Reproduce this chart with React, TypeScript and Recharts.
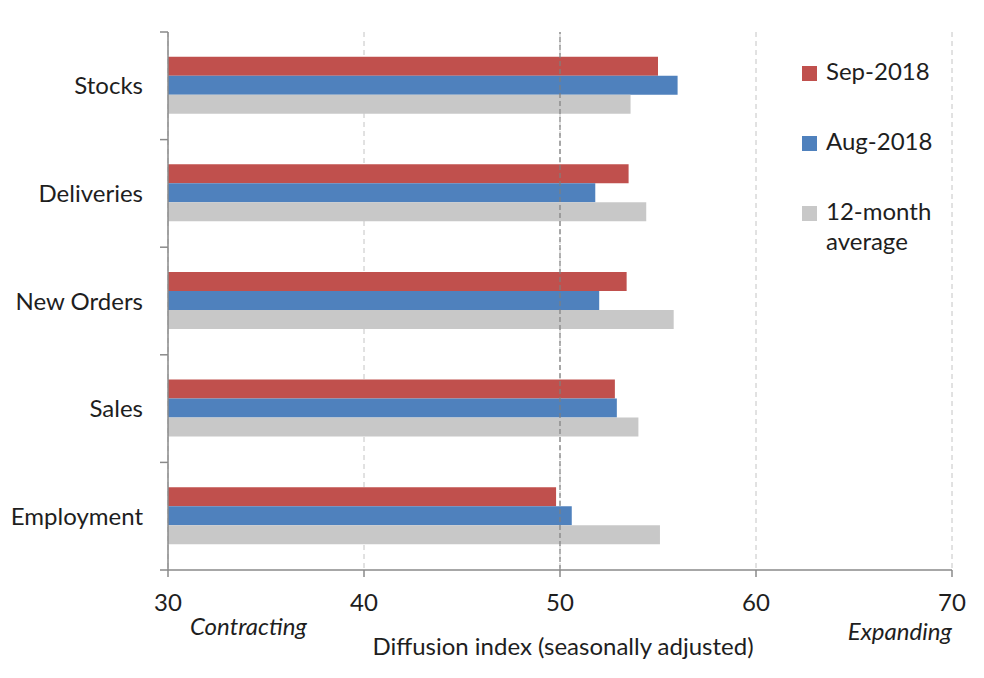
import React from 'react';
import { BarChart, Bar, XAxis, YAxis, CartesianGrid, ReferenceLine } from 'recharts';

const categories = ['Stocks', 'Deliveries', 'New Orders', 'Sales', 'Employment'];
const sep2018 = [55.0, 53.5, 53.4, 52.8, 49.8];
const aug2018 = [56.0, 51.8, 52.0, 52.9, 50.6];
const avg12 = [53.6, 54.4, 55.8, 54.0, 55.1];
const xTicks = [30, 40, 50, 60, 70];
const boundaryTicks = [0, 1, 2, 3, 4, 5];

const series = [
  { key: 'sep', name: 'Sep-2018', values: sep2018, color: '#c0504d' },
  { key: 'aug', name: 'Aug-2018', values: aug2018, color: '#4f81bd' },
  { key: 'avg', name: '12-month average', values: avg12, color: '#c8c8c8' },
];

const data = categories.map((c, i) => {
  const row: any = { category: c, pos: i + 0.5 };
  series.forEach((s) => (row[s.key] = s.values[i]));
  return row;
});

const FONT = 'Lato, "Open Sans", sans-serif';
const TEXT = '#1e1e1e';
const FS = 24;

const AxisLabels = (props: any) => {
  const vb = props.viewBox || {};
  const x = vb.x ?? 0;
  const y = vb.y ?? 0;
  const w = vb.width ?? 0;
  return (
    <g fontFamily={FONT} fontSize={FS} fill={TEXT}>
      <text x={x + 22} y={y + 65} fontStyle="italic" fill={TEXT}>Contracting</text>
      <text x={x + w} y={y + 70} fontStyle="italic" textAnchor="end" fill={TEXT}>Expanding</text>
      <text x={x + 395} y={y + 85} textAnchor="middle" fill={TEXT}>Diffusion index (seasonally adjusted)</text>
    </g>
  );
};

const NoTick = () => <g />;

export default function App() {
  return (
    <div style={{ position: 'relative', width: 976, height: 662, fontFamily: FONT }}>
      <BarChart
        width={976}
        height={662}
        data={data}
        layout="vertical"
        margin={{ top: 24, right: 32, bottom: 40, left: 0 }}
        barCategoryGap="23%"
        barGap={0}
      >
        <CartesianGrid horizontal={false} stroke="#c4c4c4" strokeDasharray="5 4" yAxisId="cat" />
        <XAxis
          type="number"
          domain={[30, 70]}
          ticks={xTicks}
          height={60}
          axisLine={{ stroke: '#8a8a8a', strokeWidth: 1.5 }}
          tickLine={{ stroke: '#8a8a8a', strokeWidth: 1.5 }}
          tickSize={7}
          tickMargin={17}
          tick={{ fontSize: FS, fill: TEXT, fontFamily: FONT }}
          label={<AxisLabels />}
        />
        <YAxis
          yAxisId="bounds"
          type="number"
          dataKey="pos"
          domain={[0, 5]}
          allowDataOverflow
          ticks={boundaryTicks}
          interval={0}
          width={1}
          tick={<NoTick />}
          tickSize={8}
          axisLine={{ stroke: '#8a8a8a', strokeWidth: 1.5 }}
          tickLine={{ stroke: '#8a8a8a', strokeWidth: 1.5 }}
        />
        <YAxis
          yAxisId="cat"
          type="category"
          dataKey="category"
          width={159}
          axisLine={false}
          tickLine={false}
          tickSize={0}
          tickMargin={24}
          tick={{ fontSize: FS, fill: TEXT, fontFamily: FONT }}
        />
        {series.map((s) => (
          <Bar key={s.key} yAxisId="cat" dataKey={s.key} name={s.name} fill={s.color} isAnimationActive={false} />
        ))}
        <ReferenceLine yAxisId="cat" x={50} stroke="#7f7f7f" strokeDasharray="5 3" strokeWidth={1.2} />
      </BarChart>
      <div style={{ position: 'absolute', left: 794, top: 48, width: 160 }}>
        {series.map((s) => (
          <div key={s.key} style={{ display: 'flex', alignItems: 'flex-start', height: 70 }}>
            <div style={{ width: 15, height: 15, background: s.color, marginTop: 10, marginRight: 9, flexShrink: 0 }} />
            <div style={{ fontSize: FS, lineHeight: '30px', color: TEXT, width: 120 }}>{s.name}</div>
          </div>
        ))}
      </div>
    </div>
  );
}
